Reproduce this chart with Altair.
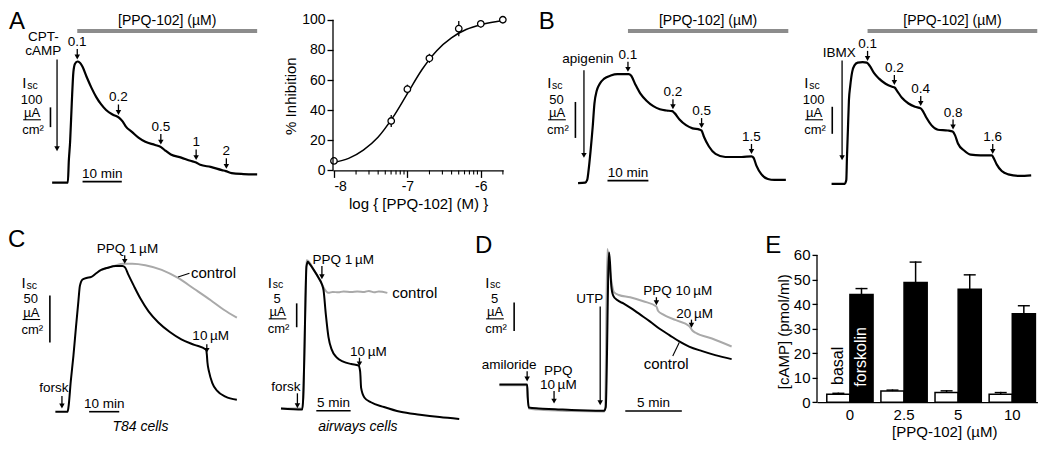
import numpy as np
import pandas as pd
import altair as alt

FONT = "Liberation Sans"
SX = 1028 / 1048
SY = 428 / 448
HEAD = "M-1,-1.8L1,-1.8L0,0Z"
GRAY = "#a9a9a9"

# ---------------- values ----------------
# A (left): Isc trace, time (min) / Isc (uA/cm2)
A_t = [0, 3.75, 4.0, 4.25, 4.58, 5.0, 5.42, 5.83, 6.42, 7.08, 7.75, 8.75, 10, 11.25, 12.5, 13.75,
       15.5, 17.1, 18, 18.75, 20.4, 22, 23.75, 26.25, 27.75, 28.75, 30.25, 32.9, 35.25, 36.7,
       37.75, 40.4, 43.25, 44.25, 45.75, 48.75, 52.25]
A_i = [0, 0, 0, 110, 206, 400, 560, 601, 612, 606, 585, 536, 480, 432, 395, 367,
       343, 327, 308, 284, 255, 227, 206, 190, 179, 163, 142, 126, 110, 101,
       90, 79, 63, 58, 48, 43, 41]
A_start_t = 1.25
A_dose_t = [6.4, 16.9, 27.7, 36.7, 44.4]
A_dose = ["0.1", "0.2", "0.5", "1", "2"]

# A (right): dose response
DR_log = [-8.0, -7.22, -7.0, -6.7, -6.3, -6.0, -5.7]
DR_inh = [6.3, 32.8, 53.9, 74.4, 94.1, 97.3, 100.0]
DR_sem = [1.5, 4.0, 3.0, 3.0, 5.0, 2.5, 0.0]
DR_fit_log = [-8.0, -7.8, -7.6, -7.4, -7.2, -7.0, -6.8, -6.6, -6.4, -6.2, -6.0, -5.8, -5.7]
DR_fit_inh = [5.3, 8.0, 13.5, 22.0, 35.0, 51.0, 67.0, 79.5, 88.0, 93.5, 96.7, 98.6, 99.3]

# B (left): apigenin
B1_t = [0, 1.75, 2.23, 2.57, 3.05, 3.6, 4.0, 4.56, 5.2, 6.4, 8.0, 9.6, 12.4, 12.95, 14.0, 15.2,
        16.8, 18.4, 20.0, 21.6, 23.0, 23.6, 24.8, 26.4, 28.0, 29.7, 30.2, 30.8, 32.0, 33.6,
        36.0, 40.0, 42.4, 42.9, 43.6, 44.8, 46.4, 48.0, 50.8]
B1_i = [0, 0.8, 4.4, 17.7, 44.2, 79.7, 110.6, 128.3, 137.2, 145.2, 149.5, 151.4, 151.4, 149.5,
        137.2, 124.8, 114.2, 107.0, 102.7, 100.9, 100.0, 97.3, 88.4, 80.5, 76.1, 74.4, 73.0,
        64.1, 50.9, 40.6, 36.3, 36.3, 37.2, 35.3, 24.3, 12.4, 5.7, 4.4, 4.4]
B1_start_t = 1.44
B1_dose_t = [12.2, 23.2, 30.2, 42.4]
B1_dose = ["0.1", "0.2", "0.5", "1.5"]

# B (right): IBMX
B2_t = [0, 3.2, 3.6, 3.76, 4.0, 4.24, 4.56, 5.04, 5.6, 6.4, 7.6, 8.6, 9.35, 10.4, 11.6, 13.2,
        14.8, 15.4, 16.0, 17.2, 18.8, 20.4, 21.8, 22.4, 23.2, 24.4, 26.0, 28.4, 29.6, 30.2,
        30.9, 32.4, 34.0, 36.4, 39.2, 39.6, 40.4, 41.6, 43.2, 46.0, 48.8]
B2_i = [0, 0, 14, 96, 202, 308, 361, 414, 438, 448, 450, 448, 436, 409, 389, 370, 359, 356,
        344, 318, 297, 285, 279, 267, 244, 217, 200, 197, 193, 179, 149, 123, 108, 105, 105,
        96, 71, 47, 35, 29, 31]
B2_start_t = 2.57
B2_dose_t = [8.8, 15.35, 21.8, 29.7, 39.4]
B2_dose = ["0.1", "0.2", "0.4", "0.8", "1.6"]

# C (left): T84 cells
C1_t = [0, 4.04, 4.36, 5.11, 5.99, 6.84, 7.62, 8.14, 9.02, 10.33, 11.95, 13.36, 15.21, 17.39,
        20.1, 22.28, 23.13, 24.23, 26.06, 28.24, 30.94, 34.2, 38.01, 41.82, 46.16, 49.97,
        50.29, 50.49, 51.04, 52.12, 53.75, 56.48, 60.26]
C1_i = [0, 0, 5.1, 32.1, 59.2, 89.6, 116.5, 133.4, 140.2, 141.8, 142.9, 146.3, 150.4, 152.7,
        154.4, 154.4, 153.0, 145.3, 133.4, 120.0, 106.4, 94.6, 84.5, 76.7, 70.9, 65.9, 60.8,
        52.4, 42.2, 30.4, 22.0, 15.9, 12.6]
C1_ctl_t = [15.21, 17.39, 20.1, 22.28, 25.54, 29.87, 35.31, 40.72, 46.16, 51.6, 55.93, 60.26]
C1_ctl_i = [150.4, 152.7, 155.2, 157.0, 157.0, 155.4, 150.4, 141.8, 130.1, 118.2, 108.1, 99.7]
C1_ev_t = [2.18, 23.03, 50.29]

# C (right): airways cells
C2_t = [0, 3.1, 3.24, 3.43, 3.57, 3.71, 3.91, 4.14, 4.77, 5.49, 5.96, 6.2, 6.53, 6.91, 7.39,
        8.1, 9.06, 10.24, 11.29, 11.53, 11.67, 12.14, 13.1, 15.0, 17.39, 20.24, 23.1, 25.96]
C2_i = [0, -0.2, 2.3, 13.0, 23.0, 29.7, 30.7, 30.3, 29.0, 27.3, 26.0, 24.7, 19.7, 15.0, 12.3,
        10.7, 9.8, 9.3, 9.0, 7.7, 4.3, 2.3, 1.3, 0.3, -0.7, -1.3, -1.8, -2.2]
C2_ctl_t = [0, 3.1, 3.24, 3.43, 3.57, 3.71, 3.96, 4.77, 5.49, 5.96, 6.2, 6.91, 7.53, 8.34, 9.1,
            10.24, 11.1, 12.14, 12.8, 13.57, 14.24, 15.49]
C2_ctl_i = [0, 0, 2.3, 13.0, 23.7, 31.0, 30.9, 29.0, 27.3, 26.0, 25.3, 24.2, 24.4, 24.3, 24.5,
            24.4, 24.5, 24.4, 24.6, 24.3, 24.5, 24.2]
C2_ev_t = [2.39, 5.96, 11.43]

# D: amiloride / UTP
D_t = [0, 2.45, 2.5, 2.6, 3.47, 4.92, 6.36, 7.8, 9.25, 9.4, 9.69, 9.78, 9.89, 10.06, 10.41,
       10.99, 11.56, 12.43, 13.3, 14.16, 15.03, 15.9, 16.77, 17.93, 19.08, 20.53]
D_i = [4.17, 4.17, 2.0, 0.17, 0, -0.12, -0.28, -0.37, -0.4, 0.2, 27.2, 25.3, 21.4, 19.7, 18.9,
       18.3, 17.6, 16.4, 15.2, 13.9, 12.8, 11.7, 10.8, 10.0, 9.3, 8.6]
D_ppq_t = [0, 2.45, 2.5, 2.6, 3.47, 6.36, 9.25, 9.35, 9.54, 9.83, 10.12, 10.55, 11.56, 12.72,
           13.88, 14.02, 14.46, 15.61, 16.77, 17.06, 17.35, 18.79, 20.53]
D_ppq_i = [4.05, 4.05, 2.0, -0.03, -0.2, -0.45, -0.53, 0.1, 27.8, 23.1, 20.3, 19.8, 19.4, 18.7,
           17.8, 17.05, 16.4, 15.4, 14.4, 13.6, 13.2, 12.2, 10.8]
D_ev_t = [2.45, 4.83, 8.91, 13.88, 16.98]

# E: cAMP
E_groups = ["0", "2.5", "5", "10"]
E_basal = [3.2, 4.5, 3.9, 3.2]
E_basal_err = [0.7, 0.7, 1.0, 1.0]
E_forsk = [43.9, 48.8, 46.0, 36.0]
E_forsk_err = [2.7, 8.6, 6.2, 3.6]


# ---------------- helpers ----------------
class Frame:
    """Panel box in reference pixels and the data scale of its trace."""
    def __init__(s, L, R, T, B, x0, kx, y0, ky):
        s.x0, s.kx, s.y0, s.ky = x0, kx, y0, ky
        s.xdom = [s.X(L), s.X(R)]
        s.ydom = [s.Y(B), s.Y(T)]
        s.w = (R - L) * SX
        s.h = (B - T) * SY

    def X(s, px):
        return (px - s.x0) / s.kx

    def Y(s, py):
        return (s.y0 - py) / s.ky

    def DX(s, n):
        return n / s.kx

    def DY(s, n):
        return n / s.ky


def enc(fr):
    return dict(
        x=alt.X("x:Q", scale=alt.Scale(domain=fr.xdom, nice=False, zero=False), axis=None),
        y=alt.Y("y:Q", scale=alt.Scale(domain=fr.ydom, nice=False, zero=False), axis=None),
    )


def L_line(fr, t, v, color="black", w=2.0):
    df = pd.DataFrame({"x": t, "y": v, "k": range(len(t))})
    return alt.Chart(df).mark_line(color=color, strokeWidth=w, interpolate="monotone",
                                   strokeJoin="round").encode(order="k:Q", **enc(fr))


def L_rules(fr, rows, color="black", w=1.3):
    df = pd.DataFrame(rows, columns=["x", "y", "x2", "y2"])
    return alt.Chart(df).mark_rule(color=color, strokeWidth=w).encode(x2="x2:Q", y2="y2:Q", **enc(fr))


def L_heads(fr, rows):
    df = pd.DataFrame(rows, columns=["x", "y"])
    return alt.Chart(df).mark_point(shape=HEAD, size=30, filled=True, color="black",
                                    opacity=1, strokeWidth=0).encode(**enc(fr))


def L_text(fr, rows, color="black", style="normal", align="center", baseline="alphabetic"):
    df = pd.DataFrame(rows, columns=["x", "y", "s", "fs"])
    return alt.Chart(df).mark_text(font=FONT, color=color, fontStyle=style, align=align,
                                   baseline=baseline).encode(
        text="s:N", size=alt.Size("fs:Q", scale=None, legend=None), **enc(fr))


def level(t, tt, ii):
    return float(np.interp(t - 0.05, tt, ii))


def arrows(fr, items):
    """items: (time, level, gap_px, length_px, lines, label_dx_px, label_gap_px, line_h_px)"""
    rr, hh, tx = [], [], []
    for (t, lv, gap, length, lines, dx, lgap, lh) in items:
        tip = lv + fr.DY(gap)
        top = tip + fr.DY(length)
        rr.append((t, top, t, tip + fr.DY(2.5)))
        hh.append((t, tip))
        base = top + fr.DY(lgap)
        for k, s in enumerate(reversed(lines)):
            tx.append((t + fr.DX(dx), base + fr.DY(k * lh), s, 13.5))
    return [L_rules(fr, rr, w=1.3), L_heads(fr, hh), L_text(fr, tx)]


def units(fr, ax, ay, value, bar_px, bar_bottom, amount):
    left = [(fr.X(ax - 9.5), fr.Y(ay - 19.5), "I", 15), (fr.X(ax - 4.5), fr.Y(ay - 16.5), "sc", 10.5)]
    mid = [(fr.X(ax), fr.Y(ay - 2.5), value, 13), (fr.X(ax + 0.5), fr.Y(ay + 11.5), "\u00b5A", 13),
           (fr.X(ax + 1.5), fr.Y(ay + 29.5), "cm\u00b2", 13)]
    ln = [(fr.X(ax - 8.5), fr.Y(ay + 18.5), fr.X(ax + 9.5), fr.Y(ay + 18.5))]
    y0 = fr.Y(bar_bottom)
    bar = [(fr.X(bar_px), y0, fr.X(bar_px), y0 + amount)]
    return [L_text(fr, left, align="left", baseline="middle"),
            L_text(fr, mid, baseline="middle"),
            L_rules(fr, ln, w=1.1), L_rules(fr, bar, w=1.6)]


def tbar(fr, px, py, amount, label):
    t0, y = fr.X(px), fr.Y(py)
    return [L_rules(fr, [(t0, y, t0 + amount, y)], w=1.6),
            L_text(fr, [(t0 + amount / 2, y + fr.DY(4), label, 13.5)])]


def ppq_bar(fr, t0, t1):
    y = fr.Y(24)
    return [L_rules(fr, [(t0, y, t1, y)], color="#8c8c8c", w=4),
            L_text(fr, [((t0 + t1) / 2, fr.Y(13.3), "[PPQ-102] (\u00b5M)", 14)], baseline="middle")]


def letter(fr, px, py, s):
    return L_text(fr, [(fr.X(px), fr.Y(py), s, 24)], align="left", baseline="middle")


def panel(fr, layers):
    return alt.layer(*layers).properties(width=fr.w, height=fr.h)


TOP_B = 220  # bottom edge (reference px) of the upper row's trace panels

# ---------------- panel A (trace) ----------------
fA = Frame(0, 331, 0, TOP_B, 45, 4.0, 182.7, 0.207)
itA = [(t, level(t, A_t, A_i), 2.5, 11, [lab], 0, 3.5, 0) for t, lab in zip(A_dose_t, A_dose)]
itA.append((A_start_t, level(A_start_t, A_t, A_i), 32.7, 96, ["CPT-", "cAMP"], -14, 5, 14))
pA = panel(fA, [L_line(fA, A_t, A_i, w=2.2)] + arrows(fA, itA)
           + units(fA, 24, 98.5, "100", 43.3, 124.7, 100)
           + tbar(fA, 76, 181.7, 10, "10 min")
           + ppq_bar(fA, A_dose_t[0], A_t[-1])
           + [letter(fA, 1, 14.5, "A")])

# ---------------- panel A (dose response) ----------------
DR_W, DR_H = 173.5 * SX, 170 * SY
dr_ysc = alt.Scale(domain=[0, 107.8], nice=False, zero=False)
dr_yax = alt.Axis(values=[0, 20, 40, 60, 80, 100], tickSize=6, domain=False,
                  title="% Inhibition", labelPadding=2, titlePadding=3, titleY=91.7 * SY)
drx = alt.X("x:Q", scale=alt.Scale(domain=[-8.013, -5.695], nice=False, zero=False),
            axis=alt.Axis(values=[-8, -7, -6], tickSize=7, labelExpr="'-' + (-datum.value)",
                          title="log { [PPQ-102] (M) }", labelPadding=2, titlePadding=3))


def dry(field):
    return alt.Y(f"{field}:Q", scale=dr_ysc, axis=dr_yax)


minor = [d + np.log10(k) for d in (-8, -7) for k in range(2, 10)] + [-6 + np.log10(2)]
dr_pts = pd.DataFrame({"x": DR_log, "y": DR_inh,
                       "y2": [a + b for a, b in zip(DR_inh, DR_sem)],
                       "y1": [a - b for a, b in zip(DR_inh, DR_sem)]})
pAD = alt.layer(
    alt.Chart(pd.DataFrame({"x": DR_fit_log, "y": DR_fit_inh})).mark_line(
        color="black", strokeWidth=1.5, interpolate="monotone").encode(x=drx, y=dry("y")),
    alt.Chart(dr_pts[dr_pts["y2"] > dr_pts["y"]]).mark_rule(color="black", strokeWidth=1.3).encode(
        x=drx, y=dry("y1"), y2="y2:Q"),
    alt.Chart(dr_pts).mark_point(shape="circle", size=42, fill="white", stroke="black",
                                 strokeWidth=1.3, opacity=1, filled=False).encode(x=drx, y=dry("y")),
    alt.Chart(pd.DataFrame({"x": [-8.013], "y": [0], "y2": [100]})).mark_rule(
        color="black", strokeWidth=1.3).encode(x=drx, y=dry("y"), y2="y2:Q"),
    alt.Chart(pd.DataFrame({"x": minor})).mark_rule(color="black", strokeWidth=1.1).encode(
        x=drx, y=alt.value(DR_H), y2=alt.value(DR_H + 4)),
).properties(width=DR_W, height=DR_H)

# ---------------- panel B ----------------
fB1 = Frame(504.5, 800, 0, TOP_B, 580, 4.17, 183.3, 0.753)
itB1 = [(t, level(t, B1_t, B1_i), 2.5, 10.5, [lab], 0, 3, 0) for t, lab in zip(B1_dose_t, B1_dose)]
itB1.append((B1_start_t, level(B1_start_t, B1_t, B1_i), 26, 91.7, ["apigenin"], 4, 8, 0))
pB1 = panel(fB1, [L_line(fB1, B1_t, B1_i, w=2.2)] + arrows(fB1, itB1)
            + units(fB1, 558, 98.5, "50", 577.3, 136, 50)
            + tbar(fB1, 610, 180.7, 10, "10 min")
            + ppq_bar(fB1, B1_dose_t[0], B1_t[-1] + 0.6)
            + [letter(fB1, 540, 14.5, "B")])

fB2 = Frame(800, 1048, 0, TOP_B, 838.3, 4.17, 184, 0.283)
itB2 = [(t, level(t, B2_t, B2_i), 2.5, 10.5, [lab], 0, 3, 0) for t, lab in zip(B2_dose_t, B2_dose)]
itB2.append((B2_start_t, level(B2_start_t, B2_t, B2_i), 24.7, 104.3, ["IBMX"], -3, 3.3, 0))
pB2 = panel(fB2, [L_line(fB2, B2_t, B2_i, w=2.2)] + arrows(fB2, itB2)
            + units(fB2, 820, 98.5, "100", 839, 131.7, 100)
            + ppq_bar(fB2, B2_dose_t[0], fB2.xdom[1]))

# ---------------- panel C ----------------
fC1 = Frame(0, 262, 222, 448, 48.3, 3.07, 421.7, 0.987)
itC1 = [
    (C1_ev_t[0], level(C1_ev_t[0], C1_t, C1_i), 3.4, 13, ["forsk"], -8.3, 4, 0),
    (C1_ev_t[1], level(C1_ev_t[1], C1_t, C1_i), 3.5, 9, ["PPQ 1\u2009\u00b5M"], 2.7, 2.5, 0),
    (C1_ev_t[2], level(C1_ev_t[2], C1_t, C1_i), 0.8, 9, ["10\u2009\u00b5M"], 4, 4.5, 0),
]
ctl1_t = C1_ctl_t[7]
ctl1_v = C1_ctl_i[7] + fC1.DY(1)
pC1 = panel(fC1, [L_line(fC1, C1_ctl_t, C1_ctl_i, color=GRAY, w=2.0),
                  L_line(fC1, C1_t, C1_i, w=2.0)] + arrows(fC1, itC1)
            + units(fC1, 23.3, 306.7, "50", 42.7, 349.3, 50)
            + tbar(fC1, 82.7, 421.7, 10, "10 min")
            + [L_rules(fC1, [(ctl1_t, ctl1_v, fC1.X(185), fC1.Y(276.7))], w=1.1),
               L_text(fC1, [(fC1.X(186.5), fC1.Y(276), "control", 15)], align="left", baseline="middle"),
               L_text(fC1, [(fC1.X(135), fC1.Y(437.3), "T84 cells", 14)], style="italic", baseline="middle"),
               letter(fC1, 0, 241.5, "C")])

fC2 = Frame(262, 470, 222, 448, 278.3, 7.0, 418.3, 5.0)
itC2 = [
    (C2_ev_t[0], level(C2_ev_t[0], C2_t, C2_i), 1.0, 15.6, ["forsk"], -11.7, 2, 0),
    (C2_ev_t[1], level(C2_ev_t[1], C2_t, C2_i), 4.5, 14, ["PPQ 1\u2009\u00b5M"], 21.7, 1.5, 0),
    (C2_ev_t[2], level(C2_ev_t[2], C2_t, C2_i), 1.5, 9, ["10\u2009\u00b5M"], 9, 1.8, 0),
]
pC2 = panel(fC2, [L_line(fC2, C2_ctl_t, C2_ctl_i, color=GRAY, w=2.0),
                  L_line(fC2, C2_t, C2_i, w=2.0)] + arrows(fC2, itC2)
            + units(fC2, 274.3, 306, "5", 294.3, 333.3, 5)
            + tbar(fC2, 314.3, 420.7, 5, "5 min")
            + [L_text(fC2, [(fC2.X(391.7), fC2.Y(297.3), "control", 15)], align="left", baseline="middle"),
               L_text(fC2, [(fC2.X(356.7), fC2.Y(437.3), "airways cells", 14)], style="italic",
                      baseline="middle")])

# ---------------- panel D ----------------
fD = Frame(470, 823.3, 222, 448, 500, 11.53, 418.3, 6.0)
itD = [
    (D_ev_t[0], level(D_ev_t[0], D_t, D_i), 3.3, 10.7, ["amiloride"], -18.3, 2.3, 0),
    (D_ev_t[1], level(D_ev_t[1], D_t, D_i), 5.7, 13.3, ["PPQ", "10\u2009\u00b5M"], 4.3, 1.5, 15.5),
    (D_ev_t[2], level(D_ev_t[2], D_t, D_i), 5.7, 103.3, ["UTP"], -10.6, 3.7, 0),
    (D_ev_t[3], level(D_ev_t[3], D_ppq_t, D_ppq_i), 1.0, 8.4, ["PPQ 10\u2009\u00b5M"], 21.7, 2.8, 0),
    (D_ev_t[4], level(D_ev_t[4], D_ppq_t, D_ppq_i), 0.8, 8.4, ["20\u2009\u00b5M"], 3.3, 2.0, 0),
]
ctlD_t = 15.9
ctlD_v = level(ctlD_t, D_t, D_i) - fD.DY(1.5)
pD = panel(fD, [L_line(fD, D_ppq_t, D_ppq_i, color=GRAY, w=2.0),
                L_line(fD, D_t, D_i, w=2.0)] + arrows(fD, itD)
           + units(fD, 495, 306, "5", 515, 337.3, 5)
           + tbar(fD, 628.3, 421, 5, "5 min")
           + [L_rules(fD, [(ctlD_t, ctlD_v, fD.X(676.7), fD.Y(363.3))], w=1.1),
              L_text(fD, [(fD.X(670), fD.Y(371.7), "control", 15)], baseline="middle"),
              letter(fD, 475, 248.3, "D"),
              letter(fD, 771, 248.3, "E")])

# ---------------- panel E ----------------
E_W, E_H = (1048 - 823.3) * SX, (411.7 - 222) * SY
rows = []
for g, b, be, f, fe in zip(E_groups, E_basal, E_basal_err, E_forsk, E_forsk_err):
    rows.append(dict(g=g, c="basal", m=b, top=b + be))
    rows.append(dict(g=g, c="forskolin", m=f, top=f + fe))
E_df = pd.DataFrame(rows)
k_unit = 1.5 / 2.567  # cap thickness in data units

ysc = alt.Scale(domain=[0, 73.9], nice=False, zero=True)
yax = alt.Axis(values=[0, 10, 20, 30, 40, 50, 60], tickSize=5, domain=False,
               title="[cAMP] (pmol/ml)", labelFontSize=15, titlePadding=2,
               titleY=(337.5 - 222) * SY)
ex = alt.X("g:N", scale=alt.Scale(domain=E_groups, paddingInner=0.145, paddingOuter=0.109, align=0.83),
           axis=alt.Axis(title="[PPQ-102] (\u00b5M)", labelAngle=0, ticks=False, labelPadding=5,
                         titlePadding=2, labelFontSize=15, titleX=(953 - 823.3) * SX))
exo = alt.XOffset("c:N", scale=alt.Scale(domain=["basal", "forskolin"], paddingInner=0, paddingOuter=0))


def ey(field):
    return alt.Y(f"{field}:Q", scale=ysc, axis=yax)


E_err = E_df.assign(v=E_df["top"], v2=E_df["m"])
E_cap = E_df.assign(v=E_df["top"], v2=E_df["top"] - k_unit)
E_bar = E_df.assign(v=E_df["m"])
E_lab = pd.DataFrame({"g": ["0", "0"], "c": ["basal", "forskolin"], "v": [7.0, 6.3],
                      "s": ["basal", "forskolin"]})

pE = alt.layer(
    alt.Chart(E_bar).mark_bar(stroke="black", strokeWidth=1.5).encode(
        x=ex, xOffset=exo, y=ey("v"),
        fill=alt.Fill("c:N", scale=alt.Scale(domain=["basal", "forskolin"], range=["white", "black"]),
                      legend=None)),
    alt.Chart(E_err).mark_bar(size=1.5, color="black").encode(x=ex, xOffset=exo, y=ey("v"), y2="v2:Q"),
    alt.Chart(E_cap).mark_bar(size=12, color="black").encode(x=ex, xOffset=exo, y=ey("v"), y2="v2:Q"),
    alt.Chart(E_lab[E_lab["c"] == "basal"]).mark_text(
        font=FONT, fontSize=16, angle=270, align="left", baseline="middle", color="black").encode(
        x=ex, xOffset=exo, y=ey("v"), text="s:N"),
    alt.Chart(E_lab[E_lab["c"] == "forskolin"]).mark_text(
        font=FONT, fontSize=16, angle=270, align="left", baseline="middle", color="white").encode(
        x=ex, xOffset=exo, y=ey("v"), text="s:N"),
    alt.Chart(pd.DataFrame({"v": [0], "v2": [60]})).mark_rule(color="black", strokeWidth=1.3).encode(
        x=alt.value(0), y=ey("v"), y2="v2:Q"),
).properties(width=E_W, height=E_H)

# ---------------- assemble ----------------
top = alt.hconcat(pA, pAD, pB1, pB2, spacing=0, bounds="flush")
bottom = alt.hconcat(pC1, pC2, pD, pE, spacing=0, bounds="flush")
chart = alt.vconcat(top, bottom, spacing=(222 - TOP_B) * SY).properties(
    padding=0, background="white"
).configure_view(stroke=None).configure_axis(
    labelFont=FONT, titleFont=FONT, labelColor="black", titleColor="black", tickColor="black",
    domainColor="black", grid=False, titleFontWeight="normal", labelFontSize=14, titleFontSize=15,
    domainWidth=1.3, tickWidth=1.3
)

chart.save("out.html", embed_options={"renderer": "svg", "actions": False})
